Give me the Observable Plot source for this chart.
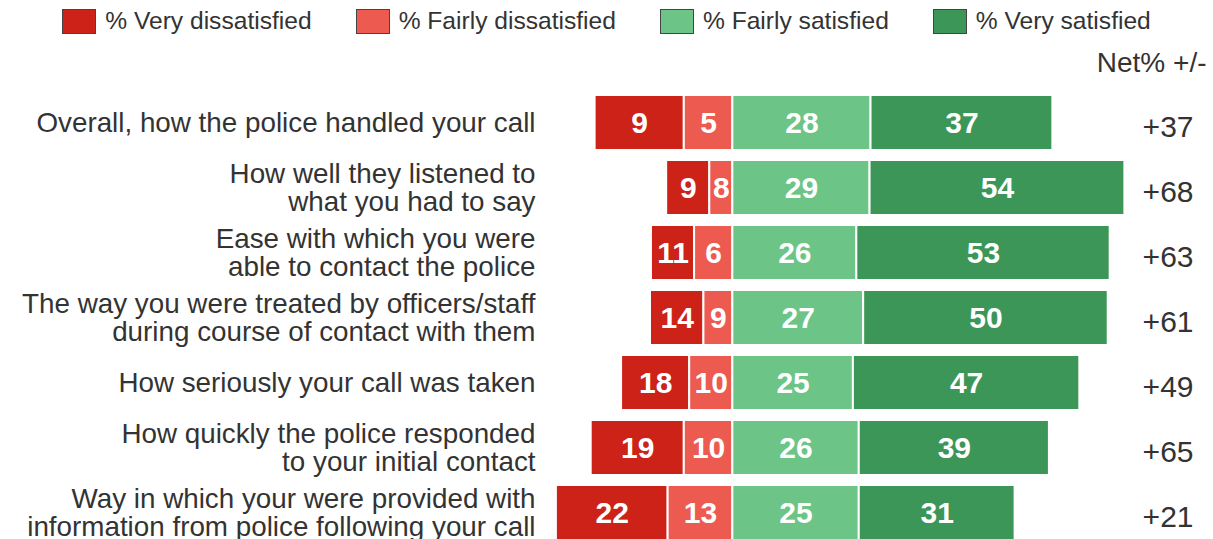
<!DOCTYPE html>
<html>
<head>
<meta charset="utf-8">
<script src="https://cdn.jsdelivr.net/npm/d3@7"></script>
<script src="https://cdn.jsdelivr.net/npm/@observablehq/plot@0.6"></script>
<style>
  html, body { margin: 0; padding: 0; background: #fff; overflow: hidden; }
  body { font-family: "Liberation Sans", Arial, sans-serif; color: #333; }
  #legend { display: flex; justify-content: center; align-items: center; height: 34px; padding-top: 4px; padding-bottom: 4px; font-size: 24.6px; }
  .item { display: flex; align-items: center; margin: 0 22px; }
  .sw { width: 34px; height: 25px; box-sizing: border-box; border: 1px solid #444; margin-right: 9px; }
  #chart svg { display: block; }
</style>
</head>
<body>
<div id="legend"></div>
<div id="chart"></div>
<script>
// ---- data ----
const questions = [
  "Overall, how the police handled your call",
  "How well they listened to\nwhat you had to say",
  "Ease with which you were\nable to contact the police",
  "The way you were treated by officers/staff\nduring course of contact with them",
  "How seriously your call was taken",
  "How quickly the police responded\nto your initial contact",
  "Way in which your were provided with\ninformation from police following your call"
];
const categories = ["% Very dissatisfied", "% Fairly dissatisfied", "% Fairly satisfied", "% Very satisfied"];
const colors = ["#cc2218", "#ec5a50", "#6cc486", "#3c9657"];

// bar lengths as drawn (percentage points)
const veryDissatisfied   = [18.2, 8.8, 8.8, 10.9, 13.9, 19.0, 22.8];
const fairlyDissatisfied = [9.9, 4.7, 7.8, 5.9, 8.8, 9.9, 13.2];
const fairlySatisfied    = [28.2, 28.0, 25.3, 26.7, 24.6, 25.8, 25.8];
const verySatisfied      = [37.1, 52.0, 51.7, 49.9, 46.2, 38.8, 31.8];

// printed labels
const veryDissatisfiedLabels   = [9, 9, 11, 14, 18, 19, 22];
const fairlyDissatisfiedLabels = [5, 8, 6, 9, 10, 10, 13];
const fairlySatisfiedLabels    = [28, 29, 26, 27, 25, 26, 25];
const verySatisfiedLabels      = [37, 54, 53, 50, 47, 39, 31];
const netLabels = ["+37", "+68", "+63", "+61", "+49", "+65", "+21"];
const netHeader = "Net% +/-";

// ---- build table ----
const segments = [];
questions.forEach((q, i) => {
  const vd = veryDissatisfied[i], fd = fairlyDissatisfied[i], fs = fairlySatisfied[i], vs = verySatisfied[i];
  segments.push({q, cat: categories[0], x1: -(vd + fd), x2: -fd, label: veryDissatisfiedLabels[i]});
  segments.push({q, cat: categories[1], x1: -fd, x2: 0, label: fairlyDissatisfiedLabels[i]});
  segments.push({q, cat: categories[2], x1: 0, x2: fs, label: fairlySatisfiedLabels[i]});
  segments.push({q, cat: categories[3], x1: fs, x2: fs + vs, label: verySatisfiedLabels[i]});
});
const netRows = questions.map((q, i) => ({q, net: netLabels[i]}));

// ---- legend ----
const legend = document.getElementById("legend");
categories.forEach((c, i) => {
  const it = document.createElement("div");
  it.className = "item";
  const sw = document.createElement("div");
  sw.className = "sw";
  sw.style.background = colors[i];
  const t = document.createElement("span");
  t.textContent = c;
  it.appendChild(sw); it.appendChild(t);
  legend.appendChild(it);
});

// ---- chart ----
const font = "'Liberation Sans', Arial, sans-serif";
const chart = Plot.plot({
  width: 1213,
  height: 513,
  marginLeft: 551,
  marginRight: 20,
  marginTop: 48,
  marginBottom: 10,
  style: {fontFamily: font, background: "white"},
  x: {domain: [-37, 94], axis: null},
  y: {domain: questions, axis: null, padding: 0},
  color: {domain: categories, range: colors},
  marks: [
    Plot.barX(segments, {x1: "x1", x2: "x2", y: "q", fill: "cat", stroke: "white", strokeWidth: 2, insetTop: 5, insetBottom: 5}),
    Plot.text(segments, {x: d => (d.x1 + d.x2) / 2, y: "q", text: "label", fill: "white", fontWeight: "bold", fontSize: 30, fontFamily: font}),
    Plot.text(questions, {y: d => d, text: d => d, frameAnchor: "left", textAnchor: "end", dx: -16, fontSize: 27.8, lineHeight: 1.0, fill: "#333", fontFamily: font}),
    Plot.text(netRows, {y: "q", text: "net", frameAnchor: "right", textAnchor: "end", dy: 4, fontSize: 30, fill: "#333", fontFamily: font}),
    Plot.text([netHeader], {text: d => d, frameAnchor: "top-right", textAnchor: "end", lineAnchor: "middle", dx: 13, dy: -27, fontSize: 28, fill: "#333", fontFamily: font})
  ]
});
document.getElementById("chart").appendChild(chart);
</script>
</body>
</html>
